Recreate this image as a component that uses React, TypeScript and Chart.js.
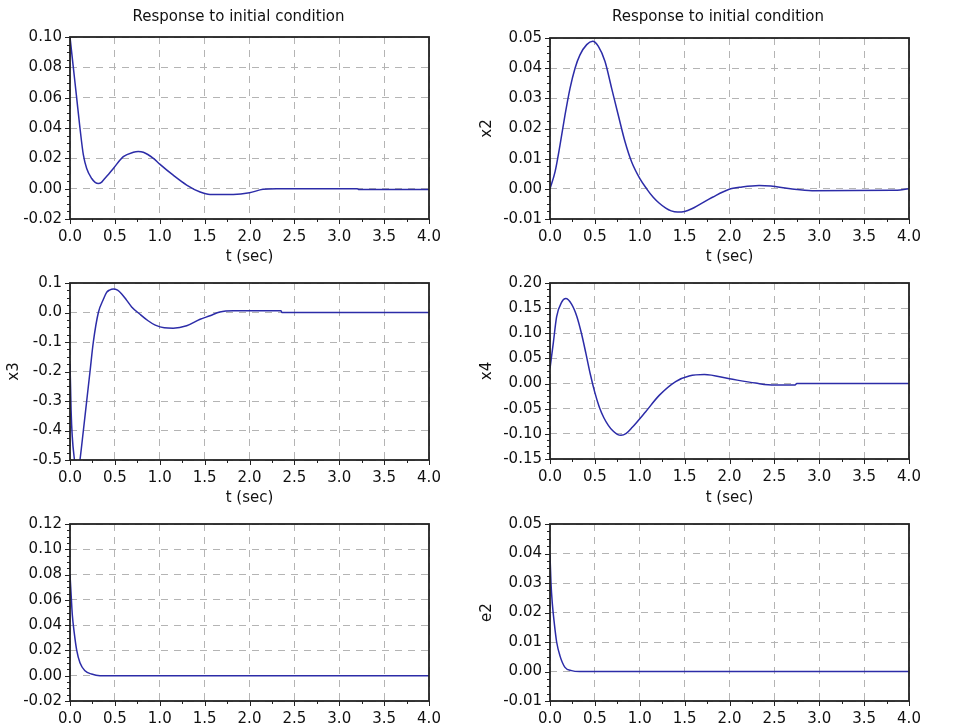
import React, { useEffect, useRef } from 'react';
import { Chart, registerables } from 'chart.js';

Chart.register(...registerables);

// ---------------- data ----------------
const titleText = 'Response to initial condition';
const xAxisTitle = 't (sec)';

const x1T = [0, 0.037, 0.074, 0.111, 0.149, 0.186, 0.242, 0.28, 0.316, 0.35, 0.371, 0.43, 0.483, 0.594, 0.706, 0.76, 0.817, 0.929, 1.0, 1.15, 1.3, 1.45, 1.56, 1.82, 2.0, 2.15, 2.3, 3.2, 3.22, 4.0];
const x1V = [0.1, 0.08, 0.06, 0.04, 0.0222, 0.0133, 0.0067, 0.0042, 0.0034, 0.0042, 0.0056, 0.0095, 0.0133, 0.0211, 0.024, 0.0245, 0.024, 0.02, 0.0162, 0.0089, 0.0024, -0.0022, -0.0038, -0.0038, -0.0027, -0.0004, 0.0, 0.0, -0.0006, -0.0006];

const x2T = [0, 0.056, 0.111, 0.167, 0.223, 0.279, 0.334, 0.409, 0.475, 0.539, 0.613, 0.687, 0.761, 0.836, 0.91, 1.003, 1.077, 1.15, 1.215, 1.29, 1.35, 1.42, 1.5, 1.58, 1.66, 1.81, 1.99, 2.14, 2.33, 2.46, 2.68, 2.92, 3.82, 4.0];
const x2V = [0, 0.0056, 0.0144, 0.0244, 0.0333, 0.04, 0.0444, 0.0478, 0.0489, 0.0472, 0.0422, 0.0333, 0.0244, 0.0156, 0.0089, 0.0033, 0.0, -0.0028, -0.0047, -0.0064, -0.0073, -0.0077, -0.0075, -0.0066, -0.0053, -0.0028, -0.0002, 0.0006, 0.0011, 0.0009, 0.0, -0.0006, -0.0005, 0.0];

const x3T = [0, 0.006, 0.012, 0.025, 0.05, 0.08, 0.111, 0.149, 0.186, 0.223, 0.26, 0.316, 0.371, 0.408, 0.44, 0.483, 0.53, 0.576, 0.63, 0.687, 0.78, 0.87, 0.95, 1.05, 1.15, 1.3, 1.45, 1.56, 1.67, 1.82, 2.35, 2.36, 4.0];
const x3V = [-0.175, -0.25, -0.33, -0.42, -0.5, -0.56, -0.5, -0.4, -0.3, -0.2, -0.1, 0.0, 0.044, 0.068, 0.076, 0.08, 0.076, 0.063, 0.042, 0.019, -0.006, -0.028, -0.043, -0.052, -0.053, -0.045, -0.023, -0.011, 0.002, 0.006, 0.006, 0.0, 0.0];

const x4T = [0, 0.037, 0.074, 0.13, 0.175, 0.24, 0.3, 0.35, 0.4, 0.45, 0.5, 0.55, 0.6, 0.65, 0.7, 0.75, 0.79, 0.85, 0.917, 1.066, 1.214, 1.4, 1.55, 1.72, 2.0, 2.29, 2.5, 2.73, 2.75, 4.0];
const x4V = [0.03, 0.081, 0.133, 0.162, 0.169, 0.158, 0.133, 0.1, 0.06, 0.018, -0.018, -0.047, -0.068, -0.083, -0.094, -0.101, -0.103, -0.099, -0.087, -0.056, -0.024, 0.004, 0.015, 0.018, 0.0095, 0.001, -0.003, -0.003, 0.0, 0.0];

const e1T = [0, 0.008, 0.015, 0.026, 0.048, 0.074, 0.111, 0.167, 0.24, 0.334, 4.0];
const e1V = [0.08, 0.07, 0.061, 0.048, 0.0335, 0.0205, 0.0103, 0.0039, 0.0013, 0.0, 0.0];

const e2T = [0, 0.011, 0.026, 0.048, 0.074, 0.111, 0.167, 0.24, 0.33, 4.0];
const e2V = [0.0395, 0.03, 0.023, 0.0163, 0.01, 0.0053, 0.0014, 0.0003, 0.0, 0.0];

// axis ranges / tick steps
const yRange1 = [-0.02, 0.1, 0.02];
const yRange2 = [-0.01, 0.05, 0.01];
const yRange3 = [-0.5, 0.1, 0.1];
const yRange4 = [-0.15, 0.2, 0.05];
const yRange5 = [-0.02, 0.12, 0.02];
const yRange6 = [-0.01, 0.05, 0.01];
const xRange = [0, 4, 0.5];

// ---------------- styling / layout ----------------
const FONT = 'DejaVu Sans';
const LINE_COLOR = '#2c2ca8';
const GRID_COLOR = '#b4b4b4';

type Rect = { left: number; top: number; width: number; height: number };
type Plot = { left: number; top: number; right: number; bottom: number };
type Panel = {
  id: string;
  t: number[];
  v: number[];
  range: number[];
  dec: number;
  yTitle: string;
  xTitle: string;
  title: string;
  canvas: Rect;
  plot: Plot;
};

const panels: Panel[] = [
  { id: 'p1', t: x1T, v: x1V, range: yRange1, dec: 2, yTitle: '', xTitle: xAxisTitle, title: titleText,
    canvas: { left: 0, top: 0, width: 477, height: 266 }, plot: { left: 70, top: 37, right: 429, bottom: 219 } },
  { id: 'p2', t: x2T, v: x2V, range: yRange2, dec: 2, yTitle: 'x2', xTitle: xAxisTitle, title: titleText,
    canvas: { left: 478, top: 0, width: 480, height: 266 }, plot: { left: 550, top: 38, right: 909, bottom: 219 } },
  { id: 'p3', t: x3T, v: x3V, range: yRange3, dec: 1, yTitle: 'x3', xTitle: xAxisTitle, title: '',
    canvas: { left: 0, top: 266, width: 477, height: 241 }, plot: { left: 70, top: 279, right: 429, bottom: 460 } },
  { id: 'p4', t: x4T, v: x4V, range: yRange4, dec: 2, yTitle: 'x4', xTitle: xAxisTitle, title: '',
    canvas: { left: 478, top: 266, width: 480, height: 241 }, plot: { left: 550, top: 279, right: 909, bottom: 459 } },
  { id: 'p5', t: e1T, v: e1V, range: yRange5, dec: 2, yTitle: '', xTitle: '', title: '',
    canvas: { left: 0, top: 507, width: 477, height: 221 }, plot: { left: 70, top: 520, right: 429, bottom: 701 } },
  { id: 'p6', t: e2T, v: e2V, range: yRange6, dec: 2, yTitle: 'e2', xTitle: '', title: '',
    canvas: { left: 478, top: 507, width: 480, height: 221 }, plot: { left: 550, top: 520, right: 909, bottom: 701 } },
];

const fmt = (v: number, d: number) => (Math.abs(v) < 1e-9 ? 0 : v).toFixed(d);

const framePlugin = {
  id: 'frameAndMinorTicks',
  afterDraw(chart: any) {
    const { ctx, chartArea: a, scales } = chart;
    ctx.save();
    ctx.setLineDash([]);
    ctx.strokeStyle = '#222';
    ctx.lineWidth = 1;
    ctx.beginPath();
    const yv: number[] = scales.y.ticks.map((t: any) => t.value);
    yv.forEach((val, i) => {
      const py = Math.round(scales.y.getPixelForValue(val)) + 0.5;
      ctx.moveTo(a.left - 5, py);
      ctx.lineTo(a.left, py);
      if (i < yv.length - 1) {
        for (let k = 1; k < 4; k++) {
          const mv = val + ((yv[i + 1] - val) * k) / 4;
          const mp = Math.round(scales.y.getPixelForValue(mv)) + 0.5;
          ctx.moveTo(a.left - 3, mp);
          ctx.lineTo(a.left, mp);
        }
      }
    });
    const xv: number[] = scales.x.ticks.map((t: any) => t.value);
    xv.forEach((val, i) => {
      const px = Math.round(scales.x.getPixelForValue(val)) + 0.5;
      ctx.moveTo(px, a.bottom);
      ctx.lineTo(px, a.bottom + 5);
      if (i < xv.length - 1) {
        const mp = Math.round(scales.x.getPixelForValue((val + xv[i + 1]) / 2)) + 0.5;
        ctx.moveTo(mp, a.bottom);
        ctx.lineTo(mp, a.bottom + 3);
      }
    });
    ctx.stroke();
    ctx.lineWidth = 1.8;
    ctx.strokeRect(a.left, a.top, a.right - a.left, a.bottom - a.top);
    ctx.restore();
  },
};

function PanelChart({ p }: { p: Panel }) {
  const ref = useRef<HTMLCanvasElement | null>(null);
  useEffect(() => {
    if (!ref.current) return;
    const c = p.canvas;
    const yAxisWidth = p.plot.left - c.left;
    const xAxisHeight = c.top + c.height - p.plot.bottom;
    const rightPad = c.left + c.width - p.plot.right;
    const titleLH = 18;
    const titlePadTop = 8;
    const titlePadBottom = p.plot.top - c.top - titlePadTop - titleLH;
    const chart = new Chart(ref.current, {
      type: 'line',
      data: {
        datasets: [
          {
            data: p.t.map((x, i) => ({ x, y: p.v[i] })),
            borderColor: LINE_COLOR,
            borderWidth: 1.5,
            pointRadius: 0,
            fill: false,
            cubicInterpolationMode: 'monotone',
            yAxisID: 'y',
          },
        ],
      },
      options: {
        animation: false,
        responsive: false,
        maintainAspectRatio: false,
        devicePixelRatio: 1,
        layout: {
          padding: { left: 0, right: 0, top: p.title ? 0 : p.plot.top - c.top, bottom: 0 },
        },
        plugins: {
          legend: { display: false },
          tooltip: { enabled: false },
          title: {
            display: !!p.title,
            text: p.title,
            color: '#111',
            font: { family: FONT, size: 15, weight: 'normal', lineHeight: 1.2 },
            padding: { top: titlePadTop, bottom: titlePadBottom },
          },
        },
        scales: {
          x: {
            type: 'linear',
            min: xRange[0],
            max: xRange[1],
            afterFit: (s: any) => {
              s.height = xAxisHeight;
            },
            ticks: {
              stepSize: xRange[2],
              autoSkip: false,
              maxRotation: 0,
              padding: 9,
              color: '#111',
              font: { family: FONT, size: 15 },
              callback: (v: any) => fmt(Number(v), 1),
            },
            grid: { color: GRID_COLOR, lineWidth: 1, drawTicks: false },
            border: { display: false, dash: [7, 6] },
            title: {
              display: !!p.xTitle,
              text: p.xTitle,
              color: '#111',
              font: { family: FONT, size: 15 },
              padding: 0,
            },
          },
          y: {
            type: 'linear',
            position: 'left',
            min: p.range[0],
            max: p.range[1],
            afterFit: (s: any) => {
              s.width = yAxisWidth;
            },
            ticks: {
              stepSize: p.range[2],
              autoSkip: false,
              padding: 8,
              color: '#111',
              font: { family: FONT, size: 15 },
              callback: (v: any) => fmt(Number(v), p.dec),
            },
            grid: { color: GRID_COLOR, lineWidth: 1, drawTicks: false },
            border: { display: false, dash: [7, 6] },
            title: {
              display: !!p.yTitle,
              text: p.yTitle,
              color: '#111',
              font: { family: FONT, size: 15 },
              padding: { top: p.canvas.left === 0 ? 5 : 0, bottom: 0 },
            },
          },
          spacer: {
            type: 'linear',
            position: 'right',
            display: true,
            min: 0,
            max: 1,
            afterFit: (s: any) => {
              s.width = rightPad;
            },
            ticks: { display: false },
            grid: { display: false },
            border: { display: false },
          },
        },
      } as any,
      plugins: [framePlugin],
    });
    return () => chart.destroy();
  }, [p]);
  const c = p.canvas;
  return (
    <canvas
      ref={ref}
      width={c.width}
      height={c.height}
      style={{ position: 'absolute', left: c.left, top: c.top, width: c.width, height: c.height }}
    />
  );
}

export default function App() {
  return (
    <div style={{ position: 'absolute', left: 0, top: 0, width: 958, height: 728, background: '#fff', overflow: 'hidden' }}>
      {panels.map((p) => (
        <PanelChart key={p.id} p={p} />
      ))}
    </div>
  );
}
